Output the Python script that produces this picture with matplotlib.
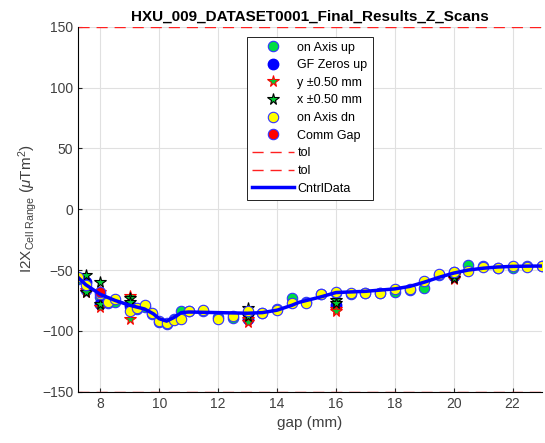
import matplotlib
matplotlib.use("Agg")
import matplotlib.pyplot as plt

plt.rcParams['font.family'] = ['Liberation Sans', 'DejaVu Sans']
plt.rcParams['mathtext.fontset'] = 'custom'
plt.rcParams['mathtext.rm'] = 'Liberation Sans'
plt.rcParams['mathtext.it'] = 'Liberation Sans:italic'

# gaps of the on-axis scans (mm)
gap_scan = [7.24, 7.5, 8.0, 8.25, 8.5, 9.0, 9.25, 9.5, 9.75, 10.0, 10.25, 10.5, 10.75,
            11.0, 11.5, 12.0, 12.5, 13.0, 13.5, 14.0, 14.5, 15.0, 15.5, 16.0, 16.5,
            17.0, 17.5, 18.0, 18.5, 19.0, 19.5, 20.0, 20.5, 21.0, 21.5, 22.0, 22.5, 23.0]
on_axis_up = [-57, -66, -72, -77, -76, -80, -82, -80, -86, -93, -94, -90, -84,
              -84, -84, -89, -89.5, -86, -85, -82, -73, -76, -70, -69, -70,
              -69, -69, -68, -66, -65, -54, -52, -46, -47, -48, -48, -47, -47]
on_axis_dn = [-56, -62, -70, -76, -74, -84, -81, -79, -85, -91.6, -93.8, -91, -90,
              -83.7, -83, -90, -88, -84, -85, -83, -77, -76.8, -69.7, -67.8, -69,
              -68.6, -68.6, -65.9, -65.9, -58.7, -53.5, -51.3, -51, -47.2, -48.6, -46.7, -47.2, -46.7]

# gaps with transverse scans
gap_xy = [7.5, 8.0, 9.0, 13.0, 16.0, 20.0]
gf_zeros_up = [-60, -78, -79, -90, -79, -55]
y_plus = [-66, -68, -71, -90, -82, -55]
y_minus = [-68, -80, -90.5, -92.5, -84, -57]
x_plus = [-54, -59.6, -73, -81, -74.6, -56.8]
x_minus = [-68, -78, -76, -88, -77, -54]

gap_comm = [8.0]
comm_gap = [-68]

tol = 150

gap_ctrl = [7.24, 7.5, 8.0, 8.5, 9.0, 9.5, 9.8, 10.0, 10.25, 10.5, 10.75, 11.0, 12.0,
            13.0, 13.5, 14.0, 14.5, 14.75, 15.0, 15.5, 16.0, 16.5, 17.0, 17.5, 18.0,
            18.5, 19.0, 19.5, 20.0, 20.5, 21.0, 21.5, 22.0, 22.5, 23.0]
cntrl_data = [-56, -62, -70, -75, -79, -82, -86, -90, -92, -89, -85, -84.5, -85,
              -85.5, -85, -83, -79, -76.5, -75, -72, -68.5, -68, -67.5, -66.5, -65.5,
              -63.5, -60, -56, -52.5, -50, -48.5, -47.5, -47, -46.8, -46.7]

fig = plt.figure(figsize=(5.45, 4.43), dpi=100)
ax = fig.add_axes([0.1431, 0.1158, 0.8514, 0.8239])

ms = 7.5
ax.plot(gap_scan, on_axis_up, 'o', mfc='#00dd44', mec='#3333ff', ms=ms, mew=0.8, label='on Axis up')
ax.plot(gap_xy, gf_zeros_up, 'o', mfc='#0000ff', mec='#0000ff', ms=ms, label='GF Zeros up')
ax.plot(gap_xy, y_plus, '*', mfc='#00cc33', mec='red', ms=8.5, mew=0.8, label='y \u00b10.50 mm')
ax.plot(gap_xy, y_minus, '*', mfc='#00cc33', mec='red', ms=8.5, mew=0.8)
ax.plot(gap_xy, x_plus, '*', mfc='#00cc33', mec='black', ms=8.5, mew=0.8, label='x \u00b10.50 mm')
ax.plot(gap_xy, x_minus, '*', mfc='#00cc33', mec='black', ms=8.5, mew=0.8)
ax.plot(gap_scan, on_axis_dn, 'o', mfc='#ffff00', mec='#3333ff', ms=ms, mew=0.8, label='on Axis dn')
ax.plot(gap_comm, comm_gap, 'o', mfc='red', mec='#3333ff', ms=ms, mew=0.8, label='Comm Gap')
ax.axhline(tol, color='#ff2020', ls=(0, (8, 5)), lw=1, label='tol')
ax.axhline(-tol, color='#ff2020', ls=(0, (8, 5)), lw=1, label='tol')
ax.plot(gap_ctrl, cntrl_data, '-', color='#0000ff', lw=2.5, label='CntrlData')

ax.set_xlim(7.24, 23)
ax.set_ylim(-150, 150)
ax.set_xticks(range(8, 23, 2))
ax.set_yticks(range(-150, 151, 50))
ax.grid(True, color='#e0e0e0', lw=0.8)
ax.set_axisbelow(True)
ax.spines['top'].set_visible(False)
ax.spines['right'].set_visible(False)
ax.tick_params(direction='in', labelsize=10, colors='#262626', labelcolor='#404040', length=3)

ax.set_xlabel('gap (mm)', fontsize=11, color='#404040')
ax.set_ylabel(r'I2X$_{\mathrm{Cell\ Range}}$ ($\mu$Tm$^2$)', fontsize=11, color='#404040', labelpad=2)
ax.set_title('HXU_009_DATASET0001_Final_Results_Z_Scans', fontsize=11, fontweight='bold', pad=4)

leg = ax.legend(loc='upper center', bbox_to_anchor=(0.5, 0.973), borderaxespad=0,
                fontsize=9, fancybox=False, framealpha=1, edgecolor='black',
                handlelength=3.3, handletextpad=0.3, borderpad=0.4, labelspacing=0.45)
leg.get_frame().set_linewidth(0.6)

fig.savefig('out.png', dpi=100)
